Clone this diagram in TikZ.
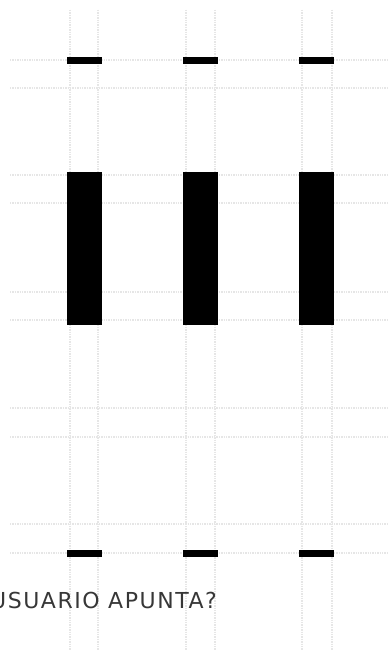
\documentclass[tikz,border=0pt]{standalone}
\usepackage{fontspec}
\setmainfont{DejaVu Sans}
\usetikzlibrary{calc}
\definecolor{gridGray}{RGB}{230,230,230}
\definecolor{barBlack}{RGB}{0,0,0}
\definecolor{captionGray}{RGB}{55,55,55}
\newcommand{\CaptionText}[1]{{\fontsize{22}{25}\selectfont\addfontfeatures{LetterSpace=7}#1}}

\begin{document}
\begin{tikzpicture}[x=1pt,y=-1pt]
\useasboundingbox (0,0) rectangle (389,650);
\fill[white] (0,0) rectangle (389,650);
\foreach \gx in {70,98,186,215,302,332}
  \draw[gridGray,densely dotted,line width=1.4pt] (\gx,10) -- (\gx,650);
\foreach \gy in {60,88,175,203,292,320,408,437,524,553}
  \draw[gridGray,densely dotted,line width=1.4pt] (10,\gy) -- (389,\gy);
\foreach \bx in {67,183,299} {
  \fill[barBlack] (\bx,57) rectangle ++(35,7);
  \fill[barBlack] (\bx,172) rectangle ++(35,153);
  \fill[barBlack] (\bx,550) rectangle ++(35,7);
}
\node[anchor=base east,text=captionGray,inner sep=0pt] (caption) at (217,608) {\CaptionText{USUARIO APUNTA?}};
\end{tikzpicture}
\end{document}
